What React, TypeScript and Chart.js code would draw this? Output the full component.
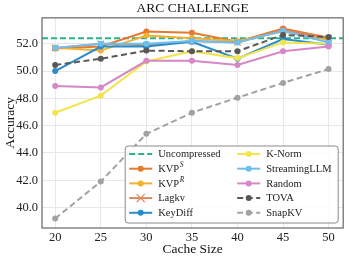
import React, { useEffect, useRef } from "react";
import { Chart, registerables } from "chart.js";

Chart.register(...registerables);

const CACHE_SIZES = [20, 25, 30, 35, 40, 45, 50];
const UNCOMPRESSED = 52.4;
const KVP_S = [51.66, 51.8, 52.9, 52.8, 52.15, 53.12, 52.45];
const KVP_R = [51.7, 51.5, 52.6, 52.4, 52.2, 52.9, 52.3];
const LAGKV = [51.7, 52.0, 51.9, 52.2, 52.1, 53.0, 52.4];
const KEYDIFF = [50.0, 51.8, 51.8, 52.15, 50.9, 52.35, 51.93];
const K_NORM = [46.95, 48.2, 50.7, 51.45, 50.95, 52.1, 52.0];
const STREAMING = [51.7, 52.0, 52.0, 52.2, 52.1, 52.95, 52.1];
const RANDOM = [48.9, 48.8, 50.75, 50.75, 50.45, 51.45, 51.8];
const TOVA = [50.45, 50.9, 51.5, 51.45, 51.45, 52.65, 52.5];
const SNAPKV = [39.2, 41.9, 45.4, 46.95, 48.05, 49.13, 50.15];

const Y_TICKS = [40, 42, 44, 46, 48, 50, 52];
const X_TICKS = [20, 25, 30, 35, 40, 45, 50];
const X_MIN = 18.55;
const X_MAX = 51.6;
const Y_MIN = 38.5;
const Y_MAX = 53.9;

const FONT = "'Liberation Serif', 'Times New Roman', serif";

type S = {
  label: string;
  sup?: string;
  color: string;
  values: number[] | null;
  dash?: number[];
  marker?: string | false;
};

const SERIES: S[] = [
  { label: "Uncompressed", color: "#27b48a", values: null, dash: [6, 3], marker: false },
  { label: "KVP", sup: "S", color: "#e5792e", values: KVP_S, marker: "circle" },
  { label: "KVP", sup: "R", color: "#f1b133", values: KVP_R, marker: "circle" },
  { label: "Lagkv", color: "#d9875e", values: LAGKV, marker: "crossRot" },
  { label: "KeyDiff", color: "#2a8cca", values: KEYDIFF, marker: "circle" },
  { label: "K-Norm", color: "#f3e44c", values: K_NORM, marker: "circle" },
  { label: "StreamingLLM", color: "#6cbfee", values: STREAMING, marker: "circle" },
  { label: "Random", color: "#d587c6", values: RANDOM, marker: "circle" },
  { label: "TOVA", color: "#585858", values: TOVA, dash: [6, 3.5], marker: "circle" },
  { label: "SnapKV", color: "#a2a2a2", values: SNAPKV, dash: [6, 3.5], marker: "circle" },
];

const framePlugin = {
  id: "frame",
  afterDatasetsDraw(chart: any) {
    const { ctx, chartArea: a } = chart;
    ctx.save();
    ctx.strokeStyle = "#666";
    ctx.lineWidth = 1.2;
    ctx.strokeRect(a.left, a.top, a.right - a.left, a.bottom - a.top);
    ctx.restore();
  },
};

const legendPlugin = {
  id: "insideLegend",
  afterDraw(chart: any) {
    const { ctx, chartArea: a } = chart;
    const w = 213;
    const h = 77;
    const x0 = a.right - 5 - w;
    const y0 = a.bottom - 5 - h;
    ctx.save();
    ctx.beginPath();
    const r = 3;
    ctx.moveTo(x0 + r, y0);
    ctx.arcTo(x0 + w, y0, x0 + w, y0 + h, r);
    ctx.arcTo(x0 + w, y0 + h, x0, y0 + h, r);
    ctx.arcTo(x0, y0 + h, x0, y0, r);
    ctx.arcTo(x0, y0, x0 + w, y0, r);
    ctx.closePath();
    ctx.fillStyle = "rgba(255,255,255,0.85)";
    ctx.fill();
    ctx.strokeStyle = "#8a8a8a";
    ctx.lineWidth = 1;
    ctx.stroke();

    SERIES.forEach((s, i) => {
      const col = Math.floor(i / 5);
      const row = i % 5;
      const lx = x0 + 4 + col * 108;
      const ly = y0 + 8 + row * 14.7;
      ctx.strokeStyle = s.color;
      ctx.lineWidth = 2;
      ctx.setLineDash(s.dash || []);
      ctx.beginPath();
      ctx.moveTo(lx, ly);
      ctx.lineTo(lx + 23, ly);
      ctx.stroke();
      ctx.setLineDash([]);
      const cx = lx + 11.5;
      if (s.marker === "circle") {
        ctx.fillStyle = s.color;
        ctx.beginPath();
        ctx.arc(cx, ly, 3, 0, Math.PI * 2);
        ctx.fill();
      } else if (s.marker === "crossRot") {
        ctx.lineWidth = 1.3;
        ctx.beginPath();
        ctx.moveTo(cx - 4, ly - 4);
        ctx.lineTo(cx + 4, ly + 4);
        ctx.moveTo(cx - 4, ly + 4);
        ctx.lineTo(cx + 4, ly - 4);
        ctx.stroke();
      }
      ctx.fillStyle = "#222";
      ctx.textBaseline = "middle";
      ctx.textAlign = "left";
      ctx.font = `10.5px ${FONT}`;
      const tx = lx + 29;
      ctx.fillText(s.label, tx, ly + 0.5);
      if (s.sup) {
        const tw = ctx.measureText(s.label).width;
        ctx.font = `italic 7.5px ${FONT}`;
        ctx.fillText(s.sup, tx + tw + 0.5, ly - 3.5);
      }
    });
    ctx.restore();
  },
};

export default function App() {
  const ref = useRef<HTMLCanvasElement | null>(null);
  useEffect(() => {
    document.body.style.margin = "0";
    const datasets = SERIES.map((s, i) => {
      const data = s.values
        ? CACHE_SIZES.map((x, j) => ({ x, y: s.values![j] }))
        : [
            { x: X_MIN, y: UNCOMPRESSED },
            { x: X_MAX, y: UNCOMPRESSED },
          ];
      return {
        label: s.label,
        data,
        borderColor: s.color,
        backgroundColor: s.color,
        borderWidth: 2,
        borderDash: s.dash || [],
        pointStyle: s.marker === "crossRot" ? "crossRot" : "circle",
        pointRadius: s.marker ? (s.marker === "crossRot" ? 4.5 : 3) : 0,
        pointBorderWidth: s.marker === "crossRot" ? 1.3 : 0,
        pointBackgroundColor: s.color,
        pointBorderColor: s.color,
        tension: 0,
        order: 20 - i,
      };
    });
    const chart = new Chart(ref.current!, {
      type: "line",
      data: { datasets },
      plugins: [framePlugin, legendPlugin],
      options: {
        responsive: false,
        animation: false,
        layout: { padding: { left: 0, right: 4, top: 0, bottom: 0 } },
        plugins: {
          legend: { display: false },
          tooltip: { enabled: false },
          title: {
            display: true,
            fullSize: false,
            text: "ARC CHALLENGE",
            color: "#111",
            font: { family: FONT, size: 13.5, weight: "normal", lineHeight: 1.1 },
            padding: { top: 1, bottom: 2 },
          },
        },
        scales: {
          x: {
            type: "linear",
            min: X_MIN,
            max: X_MAX,
            afterBuildTicks: (sc: any) => {
              sc.ticks = X_TICKS.map((v) => ({ value: v }));
            },
            afterFit: (sc: any) => {
              sc.height = 33;
            },
            ticks: {
              color: "#222",
              font: { family: FONT, size: 12.5 },
              padding: 2,
              maxRotation: 0,
              callback: (v: any) => String(v),
            },
            grid: { color: "#e8e8e8", lineWidth: 1, drawTicks: false },
            border: { display: false },
            title: {
              display: true,
              text: "Cache Size",
              color: "#111",
              font: { family: FONT, size: 13.5 },
              padding: { top: 5, bottom: 3 },
            },
          },
          y: {
            type: "linear",
            min: Y_MIN,
            max: Y_MAX,
            afterBuildTicks: (sc: any) => {
              sc.ticks = Y_TICKS.map((v) => ({ value: v }));
            },
            afterFit: (sc: any) => {
              sc.width = 42;
            },
            ticks: {
              color: "#222",
              font: { family: FONT, size: 12.5 },
              padding: 4,
              callback: (v: any) => Number(v).toFixed(1),
            },
            grid: { color: "#e8e8e8", lineWidth: 1, drawTicks: false },
            border: { display: false },
            title: {
              display: true,
              text: "Accuracy",
              color: "#111",
              font: { family: FONT, size: 13.5 },
              padding: { top: 2, bottom: 2 },
            },
          },
        },
      },
    } as any);
    return () => chart.destroy();
  }, []);
  return (
    <div style={{ width: 349, height: 261, background: "#fff" }}>
      <canvas ref={ref} width={349} height={261} style={{ display: "block" }} />
    </div>
  );
}
